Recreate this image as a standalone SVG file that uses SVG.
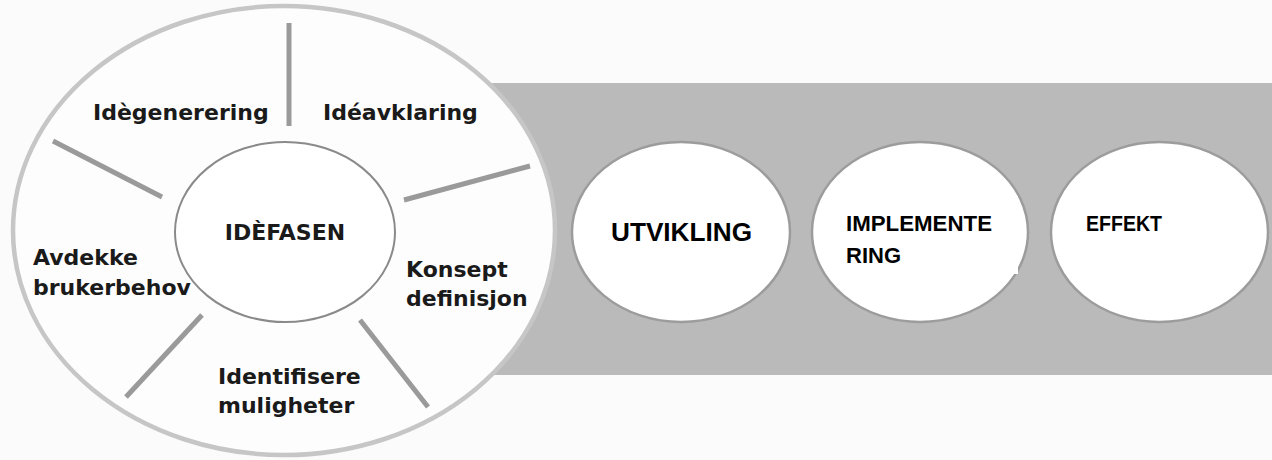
<svg xmlns="http://www.w3.org/2000/svg" width="1272" height="460" viewBox="0 0 1272 460">
<style>
.lbl{font-family:"DejaVu Sans",Verdana,sans-serif;font-weight:bold;font-size:22px;fill:#1a1a1a}
.cal{font-family:"Liberation Sans",Arial,sans-serif;font-weight:bold;fill:#000}
.spoke{stroke:#9a9a9a;stroke-width:5;stroke-linecap:butt}
.phase{fill:#ffffff;stroke:#9c9c9c;stroke-width:2.5}
</style>
<rect x="0" y="0" width="1272" height="460" fill="#fbfbfb"/>
<rect id="band" x="300" y="83" width="972" height="292" fill="#bababa"/>
<g id="outer">
<ellipse cx="284" cy="230.5" rx="271" ry="224.5" fill="#fdfdfd" stroke="#c6c6c6" stroke-width="4.5"/>
</g>
<g id="connectors">
<line class="spoke" x1="289" y1="23" x2="289" y2="126"/>
<line class="spoke" x1="53" y1="141" x2="162" y2="197"/>
<line class="spoke" x1="404" y1="200" x2="530" y2="166"/>
<line class="spoke" x1="202" y1="315" x2="126" y2="397"/>
<line class="spoke" x1="360" y1="320" x2="428" y2="407"/>
</g>
<g id="idefasen">
<ellipse cx="285" cy="232" rx="110" ry="90" fill="#ffffff" stroke="#8a8a8a" stroke-width="2"/>
<text class="lbl" x="285" y="240" text-anchor="middle">IDÈFASEN</text>
</g>
<g id="idegenerering"><text class="lbl" x="93" y="120">Idègenerering</text></g>
<g id="ideavklaring"><text class="lbl" x="323" y="120">Idéavklaring</text></g>
<g id="avdekke"><text class="lbl" x="33" y="265">Avdekke</text><text class="lbl" x="33" y="295">brukerbehov</text></g>
<g id="konsept"><text class="lbl" x="406" y="277">Konsept</text><text class="lbl" x="406" y="306">definisjon</text></g>
<g id="identifisere"><text class="lbl" x="218" y="384">Identifisere</text><text class="lbl" x="218" y="413">muligheter</text></g>
<g id="utvikling">
<ellipse class="phase" cx="681" cy="232" rx="109" ry="90"/>
<text class="cal" x="611" y="241" font-size="26" textLength="141" lengthAdjust="spacingAndGlyphs">UTVIKLING</text>
</g>
<g id="implementering">
<ellipse class="phase" cx="920" cy="232" rx="108" ry="90"/>
<rect x="826" y="196" width="192" height="78" fill="#ffffff"/>
<text class="cal" x="846" y="231" font-size="22" textLength="146" lengthAdjust="spacingAndGlyphs">IMPLEMENTE</text>
<text class="cal" x="846" y="263" font-size="22" textLength="55" lengthAdjust="spacingAndGlyphs">RING</text>
</g>
<g id="effekt">
<ellipse class="phase" cx="1159.5" cy="232" rx="108.5" ry="90"/>
<text class="cal" x="1086" y="231" font-size="22" textLength="76" lengthAdjust="spacingAndGlyphs">EFFEKT</text>
</g>
</svg>
